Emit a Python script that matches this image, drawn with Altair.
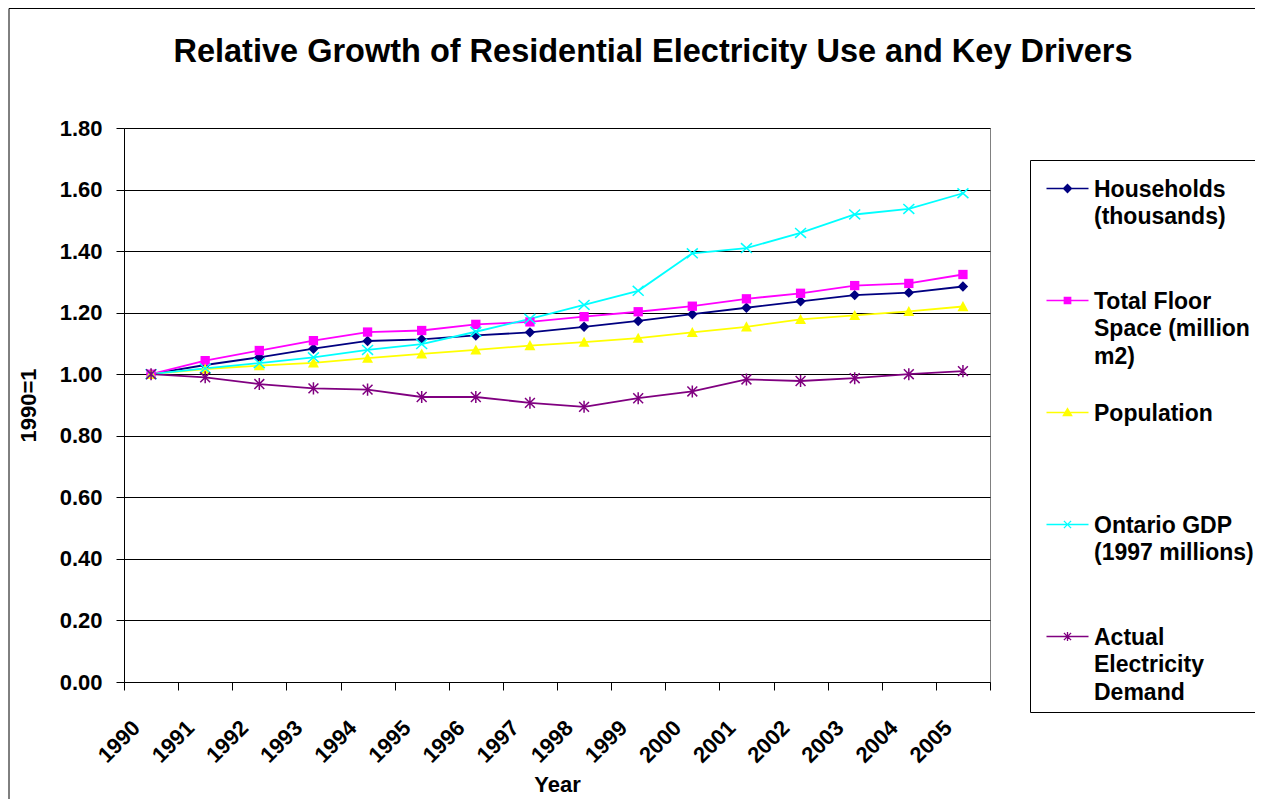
import altair as alt
import pandas as pd

years = ["1990", "1991", "1992", "1993", "1994", "1995", "1996", "1997",
         "1998", "1999", "2000", "2001", "2002", "2003", "2004", "2005"]

households = [1.000, 1.030, 1.055, 1.083, 1.108, 1.113, 1.126, 1.136,
              1.154, 1.173, 1.195, 1.216, 1.237, 1.257, 1.265, 1.285]
floor_space = [1.000, 1.044, 1.077, 1.109, 1.137, 1.142, 1.162, 1.170,
               1.187, 1.203, 1.221, 1.245, 1.263, 1.288, 1.295, 1.324]
population = [1.000, 1.017, 1.028, 1.037, 1.052, 1.066, 1.079, 1.093,
              1.104, 1.117, 1.136, 1.154, 1.178, 1.191, 1.204, 1.220]
gdp = [1.000, 1.019, 1.036, 1.055, 1.079, 1.098, 1.138, 1.180,
       1.225, 1.271, 1.393, 1.410, 1.459, 1.519, 1.537, 1.588]
electricity = [1.000, 0.990, 0.968, 0.954, 0.950, 0.926, 0.926, 0.907,
               0.894, 0.922, 0.944, 0.983, 0.978, 0.987, 1.000, 1.010]

series_names = ["Households|(thousands)", "Total Floor|Space (million|m2)",
                "Population", "Ontario GDP|(1997 millions)",
                "Actual|Electricity|Demand"]
series_colors = ["#000080", "#FF00FF", "#FFFF00", "#00FFFF", "#800080"]
y_ticks = [0.0, 0.2, 0.4, 0.6, 0.8, 1.0, 1.2, 1.4, 1.6, 1.8]

# marker shapes (style)
plot_paths = [
    "M0,-0.95L0.95,0L0,0.95L-0.95,0Z",
    "M-0.85,-0.85L0.85,-0.85L0.85,0.85L-0.85,0.85Z",
    "M0,-1L1,0.85L-1,0.85Z",
    "M-1,-0.9L1,0.9M-1,0.9L1,-0.9",
    "M-0.9,-0.9L0.9,0.9M-0.9,0.9L0.9,-0.9M0,-1.1L0,1.1",
]
marker_filled = [True, True, True, False, False]
# legend symbols: marker + a line sample (shifted down 2.5 units)
LINE = "M-5.25,2.5L5.25,2.5"
legend_paths = [
    "M0,1.5L1,2.5L0,3.5L-1,2.5Z " + LINE,
    "M-0.8,1.7L0.8,1.7L0.8,3.3L-0.8,3.3Z " + LINE,
    "M0,1.5L1.05,3.3L-1.05,3.3Z " + LINE,
    "M-0.9,1.6L0.9,3.4M-0.9,3.4L0.9,1.6 " + LINE,
    "M-0.9,1.6L0.9,3.4M-0.9,3.4L0.9,1.6M0,1.4L0,3.6 " + LINE,
]

rows = []
for name, vals in zip(series_names, [households, floor_space, population, gdp, electricity]):
    for yr, v in zip(years, vals):
        rows.append({"Year": yr, "Series": name, "Value": v})
df = pd.DataFrame(rows)

FONT = "Liberation Sans"
names_js = "[" + ",".join("'" + n + "'" for n in series_names) + "]"
lpaths_js = "[" + ",".join("'" + p + "'" for p in legend_paths) + "]"
colors_js = "[" + ",".join("'" + c + "'" for c in series_colors) + "]"
idx_js = "indexof(" + names_js + ", datum.value)"

color_scale = alt.Scale(domain=series_names, range=series_colors)

x_enc = alt.X(
    "Year:O", sort=years,
    scale=alt.Scale(type="band", paddingInner=0, paddingOuter=0),
    axis=alt.Axis(
        title="Year", labelAngle=-45, labelAlign="right", labelBaseline="middle",
        labelOffset=-15, labelPadding=34, tickBand="extent", tickSize=8,
        tickColor="black", domainColor="black", labelColor="black",
        labelFont=FONT, labelFontSize=22, labelFontWeight="bold",
        titleFont=FONT, titleFontSize=22, titleFontWeight="bold", titleColor="black",
        titleX=433, titleY=109, titleBaseline="alphabetic", titleAlign="center",
        grid=False,
    ),
)
y_enc = alt.Y(
    "Value:Q",
    scale=alt.Scale(domain=[0, 1.8], nice=False, zero=True),
    axis=alt.Axis(
        title="1990=1", values=y_ticks, format=".2f", grid=True,
        gridColor="black", gridWidth=1, tickSize=8, tickColor="black",
        domainColor="black", labelPadding=14, labelColor="black",
        labelFont=FONT, labelFontSize=22, labelFontWeight="bold",
        titleFont=FONT, titleFontSize=22, titleFontWeight="bold", titleColor="black",
        titleX=-96, titleY=277, titleAngle=-90, titleAlign="center",
        titleBaseline="middle",
    ),
)

legend = alt.Legend(
    title=None, orient="none", legendX=906, legendY=32, direction="vertical",
    fillColor="white", strokeColor="black", padding=7,
    symbolSize=64, symbolOffset=19, labelOffset=15, rowPadding=22,
    labelFont=FONT, labelFontSize=23, labelFontWeight="bold", labelColor="black",
    labelBaseline="top", labelLimit=400,
    labelExpr="slice(split(datum.label + '||', '|'), 0, 3)",
    symbolType=alt.ExprRef(expr=lpaths_js + "[" + idx_js + "]"),
    symbolFillColor=alt.ExprRef(expr=colors_js + "[" + idx_js + "]"),
    symbolStrokeColor=alt.ExprRef(expr=colors_js + "[" + idx_js + "]"),
    symbolStrokeWidth=1.3,
)

frame = alt.Chart(alt.Data(values=[{"f": 1}])).mark_rect(
    filled=False, stroke="black", strokeWidth=1
).encode(
    x=alt.value(-115), x2=alt.value(1400), y=alt.value(-119.5), y2=alt.value(900)
)

base = alt.Chart(df)

lines = base.mark_line(strokeWidth=1.8).encode(
    x=x_enc, y=y_enc,
    color=alt.Color("Series:N", scale=color_scale, legend=legend),
)

point_layers = []
for i, name in enumerate(series_names):
    point_layers.append(
        base.transform_filter(alt.datum.Series == name).mark_point(
            shape=plot_paths[i], filled=marker_filled[i], size=120, opacity=1,
            strokeWidth=1.5,
        ).encode(
            x=x_enc, y=y_enc,
            color=alt.Color("Series:N", scale=color_scale, legend=None),
        )
    )

chart = alt.layer(frame, lines, *point_layers).properties(
    width=866, height=554,
    title=alt.TitleParams(
        "Relative Growth of Residential Electricity Use and Key Drivers",
        font=FONT, fontSize=32.5, fontWeight="bold", color="black",
        anchor="middle", frame="group", dx=96, offset=-86, baseline="alphabetic",
    ),
    autosize=alt.AutoSizeParams(type="none"),
    padding={"left": 116, "top": 120, "right": 265, "bottom": 117},
).configure(
    background="white",
    style={"guide-label": {"lineHeight": 27.5}},
).configure_view(
    stroke="#808080", strokeWidth=1
)

chart.save("out.html", embed_options={"renderer": "svg", "actions": False})
